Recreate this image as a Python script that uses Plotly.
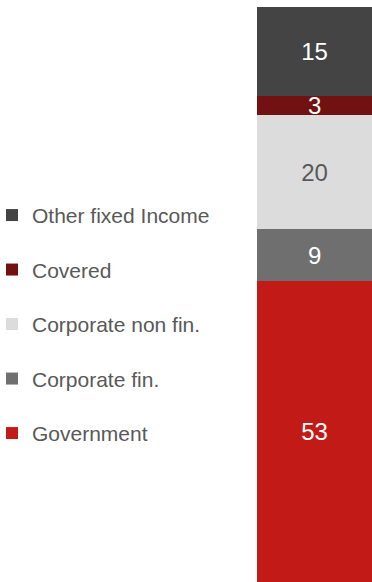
import plotly.graph_objects as go

category = ["Allocation"]
series_names = ["Government", "Corporate fin.", "Corporate non fin.", "Covered", "Other fixed Income"]
series_values = [52.4, 9.0, 19.8, 3.3, 15.5]
label_values = [53, 9, 20, 3, 15]
colors = ["#C21B17", "#6F6F6F", "#DCDCDC", "#721111", "#444444"]
text_colors = ["#FFFFFF", "#FFFFFF", "#595959", "#FFFFFF", "#FFFFFF"]

FONT = "Liberation Sans, Arial, sans-serif"

fig = go.Figure()
n = len(series_names)
for i, (name, val, lab, col, tcol) in enumerate(zip(series_names, series_values, label_values, colors, text_colors)):
    fig.add_trace(go.Bar(
        x=category, y=[val], name=name, legendgroup=name, legendrank=(n - i) * 10,
        marker=dict(color=col, line=dict(width=0)),
        text=[str(lab)], textposition="inside", insidetextanchor="middle",
        textangle=0, constraintext="none", cliponaxis=False,
        textfont=dict(color=tcol, size=24, family=FONT),
        hoverinfo="skip",
    ))

fig.update_layout(
    width=372, height=582,
    barmode="stack", bargap=0,
    margin=dict(l=0, r=0, t=7, b=0, autoexpand=False),
    paper_bgcolor="white", plot_bgcolor="white",
    font=dict(family=FONT, color="#595959"),
    xaxis=dict(domain=[0.691, 1], visible=False, showgrid=False),
    yaxis=dict(range=[0, 100], visible=False, showgrid=False),
    showlegend=True,
    legend=dict(
        x=-0.0215, xanchor="left", y=0.448, yanchor="middle",
        traceorder="grouped", tracegroupgap=24.2,
        font=dict(size=21, color="#595959", family=FONT),
        bgcolor="rgba(0,0,0,0)",
    ),
)

fig.write_html("out.html", config={"displayModeBar": False},
               post_script="document.body.style.margin='0px';")
